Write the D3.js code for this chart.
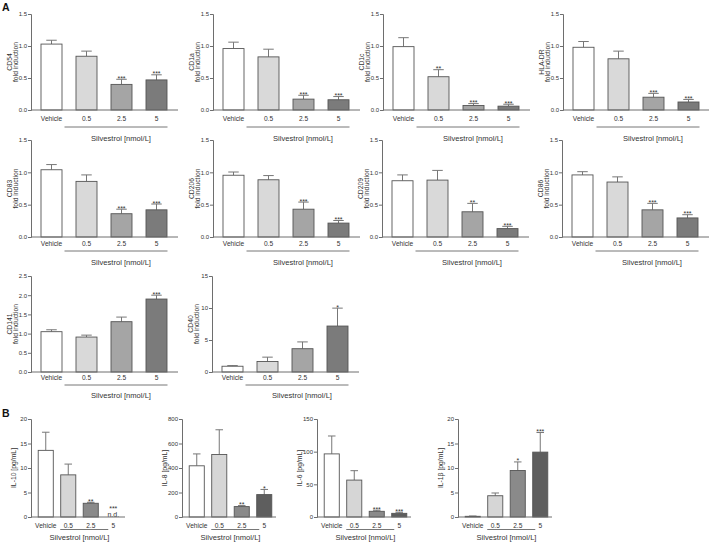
<!DOCTYPE html>
<html><head><meta charset="utf-8">
<script src="https://cdn.jsdelivr.net/npm/d3@7"></script>
<style>
body{margin:0;background:#fff}
svg text{font-family:"Liberation Sans",Arial,Helvetica,sans-serif;fill:#333}
</style>
</head><body>
<svg id="c" width="709" height="543"></svg>
<script>
// ---------------- DATA ----------------
const categories = ["Vehicle", "0.5", "2.5", "5"];
const treatmentLabel = "Silvestrol [nmol/L]";

// Panel A: surface markers (fold induction)
const markersA = ["CD54", "CD1a", "CD1c", "HLA-DR", "CD83", "CD206", "CD209", "CD86", "CD141", "CD40"];
const meansA = [
  [1.03, 0.84, 0.40, 0.47],
  [0.96, 0.83, 0.17, 0.16],
  [0.99, 0.52, 0.07, 0.06],
  [0.98, 0.80, 0.20, 0.125],
  [1.04, 0.86, 0.36, 0.42],
  [0.955, 0.885, 0.43, 0.215],
  [0.87, 0.88, 0.39, 0.13],
  [0.96, 0.85, 0.42, 0.295],
  [1.05, 0.91, 1.31, 1.90],
  [0.9, 1.64, 3.64, 7.18]
];
const semA = [
  [0.06, 0.08, 0.08, 0.08],
  [0.10, 0.12, 0.06, 0.05],
  [0.14, 0.11, 0.03, 0.03],
  [0.09, 0.12, 0.06, 0.04],
  [0.08, 0.10, 0.07, 0.09],
  [0.05, 0.065, 0.11, 0.04],
  [0.09, 0.15, 0.13, 0.035],
  [0.05, 0.08, 0.10, 0.05],
  [0.05, 0.05, 0.12, 0.10],
  [0.1, 0.68, 1.06, 2.8]
];
const sigA = [
  ["", "", "***", "***"],
  ["", "", "***", "***"],
  ["", "**", "***", "***"],
  ["", "", "***", "***"],
  ["", "", "***", "***"],
  ["", "", "***", "***"],
  ["", "", "**", "***"],
  ["", "", "***", "***"],
  ["", "", "", "***"],
  ["", "", "", "*"]
];
const yTicksA = [
  [0, 0.5, 1.0, 1.5], [0, 0.5, 1.0, 1.5], [0, 0.5, 1.0, 1.5], [0, 0.5, 1.0, 1.5],
  [0, 0.5, 1.0, 1.5], [0, 0.5, 1.0, 1.5], [0, 0.5, 1.0, 1.5], [0, 0.5, 1.0, 1.5],
  [0, 0.5, 1.0, 1.5, 2.0, 2.5],
  [0, 5, 10, 15]
];
const yLabelA2 = "fold induction";

// Panel B: cytokines (pg/mL)
const cytokinesB = ["IL-10 [pg/mL]", "IL-8 [pg/mL]", "IL-6 [pg/mL]", "IL-1β [pg/mL]"];
const meansB = [
  [13.6, 8.6, 2.8, null],
  [418, 510, 85, 183],
  [96.6, 56.5, 8.7, 5.6],
  [0.14, 4.34, 9.5, 13.24]
];
const semB = [
  [3.7, 2.2, 0.2, 0],
  [97, 202, 8, 42],
  [27.4, 14.4, 1.6, 1.6],
  [0.06, 0.56, 1.74, 4.0]
];
const sigB = [
  ["", "", "**", "***"],
  ["", "", "**", "*"],
  ["", "", "***", "***"],
  ["", "", "*", "***"]
];
const yTicksB = [
  [0, 5, 10, 15, 20],
  [0, 200, 400, 600, 800],
  [0, 50, 100, 150],
  [0, 5, 10, 15, 20]
];
const notDetected = "n.d.";

// ---------------- LAYOUT / STYLE ----------------
const fillsA = ["#ffffff", "#d9d9d9", "#a5a5a5", "#7b7b7b"];
const fillsB = ["#ffffff", "#d6d6d6", "#8a8a8a", "#5e5e5e"];
const strokeC = "#555";
const axisC = "#6e6e6e";

const rowsA = [
  {y0: 110, yTop: 14, labDy: 10.5, lineDy: 17, textDy: 30.5},
  {y0: 237, yTop: 140, labDy: 8.5, lineDy: 14, textDy: 27.5},
  {y0: 372, yTop: 276, labDy: 7.5, lineDy: 13, textDy: 25.5}
];
const xA = [31, 213, 383, 563, 31, 213, 382, 562, 31, 212];
const rowOfA = [0, 0, 0, 0, 1, 1, 1, 1, 2, 2];
const xB = [31, 182, 317, 458];

const svg = d3.select("#c");

function drawChart(o) {
  const g = svg.append("g");
  const x = d3.scaleBand().domain(categories)
    .range([o.x0 + o.bL, o.x0 + o.bR]).paddingInner(o.pi).paddingOuter(o.po);
  const y = d3.scaleLinear().domain([0, d3.max(o.ticks)]).range([o.y0, o.yTop]);

  // y axis
  const ya = g.append("g").attr("transform", `translate(${o.x0},0)`)
    .call(d3.axisLeft(y).tickValues(o.ticks).tickFormat(o.fmt).tickSize(3).tickPadding(1));
  ya.select(".domain").attr("stroke", axisC).attr("stroke-width", 1);
  ya.selectAll(".tick line").attr("stroke", axisC);
  ya.selectAll(".tick text").attr("font-size", o.tickFs).style("fill", "#333");

  // bars
  const data = categories.map((c, i) => ({c, i, m: o.means[i], s: o.sems[i], sig: o.sig[i]}));
  const bw = x.bandwidth();
  const valid = data.filter(d => d.m !== null);
  // error bars (upper only)
  g.selectAll(".eb").data(valid).enter().append("path")
    .attr("d", d => {
      const cx = x(d.c) + bw / 2, yt = y(d.m + d.s), yb = y(d.m);
      const cw = bw * 0.25;
      return `M${cx},${yb}V${yt}M${cx - cw},${yt}H${cx + cw}`;
    })
    .attr("stroke", "#777").attr("stroke-width", 1).attr("fill", "none");
  g.selectAll(".bar").data(valid).enter().append("rect")
    .attr("x", d => x(d.c)).attr("width", bw)
    .attr("y", d => y(d.m)).attr("height", d => o.y0 - y(d.m))
    .attr("fill", d => o.fills[d.i]).attr("stroke", strokeC).attr("stroke-width", 0.9);

  // significance
  g.selectAll(".sig").data(data.filter(d => d.sig)).enter().append("text")
    .attr("x", d => x(d.c) + bw / 2)
    .attr("y", d => d.m === null ? o.y0 - 6 : y(d.m + d.s) + 1.5)
    .attr("text-anchor", "middle").attr("font-size", 7).text(d => d.sig);
  g.selectAll(".nd").data(data.filter(d => d.m === null)).enter().append("text")
    .attr("x", d => x(d.c) + bw / 2).attr("y", o.y0 - 0.5)
    .attr("text-anchor", "middle").attr("font-size", 7).text(notDetected);

  // x axis line
  g.append("line").attr("x1", o.x0).attr("x2", o.x0 + o.axLen)
    .attr("y1", o.y0).attr("y2", o.y0).attr("stroke", axisC).attr("stroke-width", 1);
  // x labels
  g.selectAll(".xl").data(categories).enter().append("text")
    .attr("x", d => x(d) + bw / 2).attr("y", o.y0 + o.labDy)
    .attr("text-anchor", "middle").attr("font-size", o.labFs).text(d => d);

  // treatment bracket
  const lx1 = x(categories[1]) + bw / 2 + o.lineL;
  const lx2 = x(categories[3]) + bw / 2 + o.lineR;
  g.append("line").attr("x1", lx1).attr("x2", lx2)
    .attr("y1", o.y0 + o.lineDy).attr("y2", o.y0 + o.lineDy)
    .attr("stroke", "#777").attr("stroke-width", 1);
  g.append("text").attr("x", o.textX(x, bw)).attr("y", o.y0 + o.textDy)
    .attr("text-anchor", "middle").attr("font-size", o.textFs).text(treatmentLabel);

  // y labels
  const yc = (o.y0 + o.yTop) / 2;
  o.ylab.forEach((t, k) => {
    g.append("text")
      .attr("transform", `translate(${o.x0 + o.ylabX[k]},${yc}) rotate(-90)`)
      .attr("text-anchor", "middle").attr("font-size", o.ylabFs).text(t);
  });
}

// Panel A
markersA.forEach((m, i) => {
  const r = rowsA[rowOfA[i]];
  const t = yTicksA[i];
  const dec = d3.max(t) <= 2.5;
  drawChart({
    x0: xA[i], y0: r.y0, yTop: r.yTop, ticks: t,
    fmt: dec ? d3.format(".1f") : d3.format("d"),
    means: meansA[i], sems: semA[i], sig: sigA[i], fills: fillsA,
    bL: 3, bR: 143, pi: 0.4, po: 0.2, axLen: 147,
    labDy: r.labDy, lineDy: r.lineDy, textDy: r.textDy,
    lineL: -22, lineR: 11,
    textX: (x, bw) => xA[i] + 90,
    tickFs: 6, labFs: 6.6, textFs: 7.6, ylabFs: 6.8,
    ylab: [m, yLabelA2], ylabX: [-19.5, -13.5]
  });
});

// Panel B
cytokinesB.forEach((c, i) => {
  drawChart({
    x0: xB[i], y0: 517, yTop: 419, ticks: yTicksB[i], fmt: d3.format("d"),
    means: meansB[i], sems: semB[i], sig: sigB[i], fills: fillsB,
    bL: 3.5, bR: 93.5, pi: 0.33, po: 0.165, axLen: 94,
    labDy: 10.5, lineDy: 12.5, textDy: 22.5,
    lineL: -8, lineR: -5,
    textX: (x, bw) => (x(categories[0]) + x(categories[3]) + bw) / 2,
    tickFs: 6, labFs: 6.6, textFs: 7.6, ylabFs: 6.8,
    ylab: [c], ylabX: [-15]
  });
});

// Panel letters
svg.append("text").attr("x", 2).attr("y", 11).attr("font-size", 10.5)
  .attr("font-weight", "bold").style("fill", "#111").text("A");
svg.append("text").attr("x", 2).attr("y", 417).attr("font-size", 10.5)
  .attr("font-weight", "bold").style("fill", "#111").text("B");
</script>
</body></html>
